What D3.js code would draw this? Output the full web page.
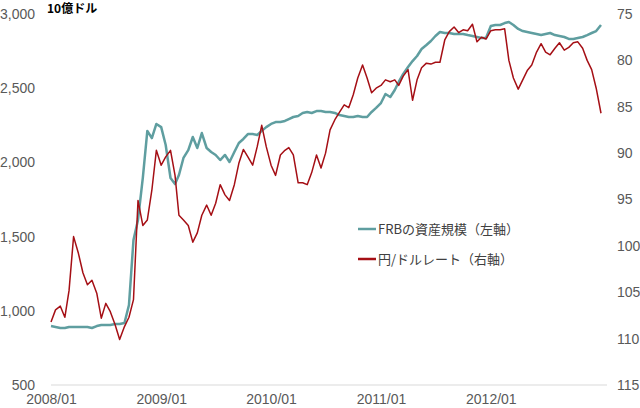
<!DOCTYPE html>
<html>
<head>
<meta charset="utf-8">
<script src="https://cdn.jsdelivr.net/npm/d3@7"></script>
<style>
	body { margin: 0; background: #fff; }
	svg { display: block; }
	.tick text { font-family: "Liberation Sans", Arial, sans-serif; font-size: 14px; fill: #595959; }
</style>
</head>
<body>
<svg id="chart" width="640" height="408"></svg>
<script>

// half-monthly readings (1st and 16th of each month), Jan 2008 - Jan 2013
var startYear = 2008;

// FRB total assets, billion USD (left axis)
var frbAssets = [
	897, 891, 884, 884, 891, 891, 891, 891, 891, 884, 897, 904, 904, 904, 911, 911,
	918, 1039, 1477, 1612, 1895, 2212, 2164, 2259, 2238, 2117, 1895, 1854, 1915, 2030, 2083, 2171,
	2097, 2198, 2097, 2070, 2050, 2016, 2050, 2003, 2070, 2131, 2158, 2191, 2191, 2185, 2212, 2238,
	2259, 2272, 2272, 2279, 2292, 2306, 2313, 2333, 2340, 2333, 2346, 2346, 2340, 2340, 2333, 2319,
	2313, 2306, 2306, 2313, 2306, 2306, 2340, 2367, 2400, 2461, 2441, 2488, 2542, 2596, 2643, 2683,
	2717, 2764, 2791, 2818, 2852, 2879, 2872, 2872, 2865, 2865, 2865, 2858, 2852, 2845, 2838, 2838,
	2919, 2926, 2926, 2939, 2946, 2926, 2899, 2885, 2879, 2872, 2865, 2858, 2865, 2872, 2858, 2852,
	2845, 2832, 2832, 2838, 2845, 2858, 2872, 2885, 2926
];

// yen per dollar (right axis)
var yenRate = [
	108.2, 106.9, 106.5, 107.7, 104.8, 99.0, 100.8, 102.9, 104.2, 103.7, 105.1, 107.8, 106.2, 107.1, 108.5, 110.1,
	108.7, 107.7, 105.8, 95.1, 97.8, 97.2, 94.0, 89.7, 91.3, 90.4, 89.7, 92.4, 96.7, 97.2, 97.8, 99.6,
	98.6, 96.7, 95.6, 96.7, 95.4, 93.4, 94.5, 95.1, 93.4, 91.1, 89.6, 90.4, 91.3, 89.3, 87.0, 89.3,
	91.3, 92.4, 90.2, 89.7, 89.4, 90.2, 93.2, 93.2, 93.4, 92.1, 90.2, 91.6, 90.0, 87.5, 86.4, 85.6,
	84.8, 85.1, 83.7, 81.9, 80.5, 81.9, 83.5, 83.0, 82.7, 82.1, 82.3, 82.1, 82.7, 81.7, 81.0, 84.3,
	82.1, 80.8, 80.3, 80.4, 80.2, 80.2, 77.8, 76.9, 76.4, 77.0, 76.7, 76.8, 76.1, 78.0, 77.5, 77.7,
	76.8, 76.7, 76.7, 76.6, 80.0, 81.9, 83.1, 82.1, 81.1, 80.5, 79.1, 78.2, 79.1, 79.4, 78.7, 78.1,
	78.9, 78.6, 78.1, 78.0, 78.7, 80.0, 81.0, 83.0, 85.7
];

var xTickYears = [2008, 2009, 2010, 2011, 2012];
var leftTicks = [500, 1000, 1500, 2000, 2500, 3000];
var rightTicks = [75, 80, 85, 90, 95, 100, 105, 110, 115];

var unitLabel = "10億ドル";
var legendLabels = ["FRBの資産規模（左軸）", "円/ドルレート（右軸）"];
var colors = ["#5f9ea0", "#a50f15"];

var dates = frbAssets.map(function (d, i) {
	return new Date(startYear, Math.floor(i / 2), i % 2 ? 16 : 1);
});

var svg = d3.select("#chart");

var x = d3.scaleTime()
	.domain([new Date(2008, 0, 1), new Date(2013, 0, 1)])
	.range([51, 601]);

var yLeft = d3.scaleLinear().domain([500, 3000]).range([385, 14]);
var yRight = d3.scaleLinear().domain([115, 75]).range([385, 14]);

// baseline
svg.append("line")
	.attr("x1", 51)
	.attr("x2", 607)
	.attr("y1", yLeft(500))
	.attr("y2", yLeft(500))
	.style("stroke", "#d9d9d9")
	.style("stroke-width", 1);

// axes
var xAxis = svg.append("g")
	.attr("transform", "translate(0," + yLeft(500) + ")")
	.call(d3.axisBottom(x)
		.tickValues(xTickYears.map(function (y) { return new Date(y, 0, 1); }))
		.tickFormat(d3.timeFormat("%Y/%m"))
		.tickSize(0)
		.tickPadding(9));

var leftAxis = svg.append("g")
	.attr("transform", "translate(51,0)")
	.call(d3.axisLeft(yLeft)
		.tickValues(leftTicks)
		.tickFormat(d3.format(","))
		.tickSize(0)
		.tickPadding(16));

var rightAxis = svg.append("g")
	.attr("transform", "translate(607,0)")
	.call(d3.axisRight(yRight)
		.tickValues(rightTicks)
		.tickSize(0)
		.tickPadding(10));

svg.selectAll(".domain").remove();

// unit label
svg.append("text")
	.attr("x", 47)
	.attr("y", 13)
	.style("font-family", "Noto Sans CJK JP")
	.style("font-size", "12px")
	.style("font-weight", "bold")
	.style("fill", "#000")
	.text(unitLabel);

// lines
var frbLine = d3.line()
	.x(function (d, i) { return x(dates[i]); })
	.y(function (d) { return yLeft(d); });

var yenLine = d3.line()
	.x(function (d, i) { return x(dates[i]); })
	.y(function (d) { return yRight(d); });

svg.append("path")
	.datum(frbAssets)
	.attr("d", frbLine)
	.style("fill", "none")
	.style("stroke", colors[0])
	.style("stroke-width", 2.5)
	.style("stroke-linejoin", "round");

svg.append("path")
	.datum(yenRate)
	.attr("d", yenLine)
	.style("fill", "none")
	.style("stroke", colors[1])
	.style("stroke-width", 1.5)
	.style("stroke-linejoin", "round");

// legend
var legend = svg.append("g")
	.selectAll("g")
	.data(legendLabels)
	.enter().append("g")
	.attr("transform", function (d, i) { return "translate(358," + (229 + i * 30) + ")"; });

legend.append("line")
	.attr("x1", 0)
	.attr("x2", 18)
	.style("stroke", function (d, i) { return colors[i]; })
	.style("stroke-width", 2.5);

legend.append("text")
	.attr("x", 20)
	.attr("dy", "0.36em")
	.style("font-family", "Noto Sans CJK JP")
	.style("font-size", "13px")
	.style("fill", "#404040")
	.text(function (d) { return d; });

</script>
</body>
</html>
